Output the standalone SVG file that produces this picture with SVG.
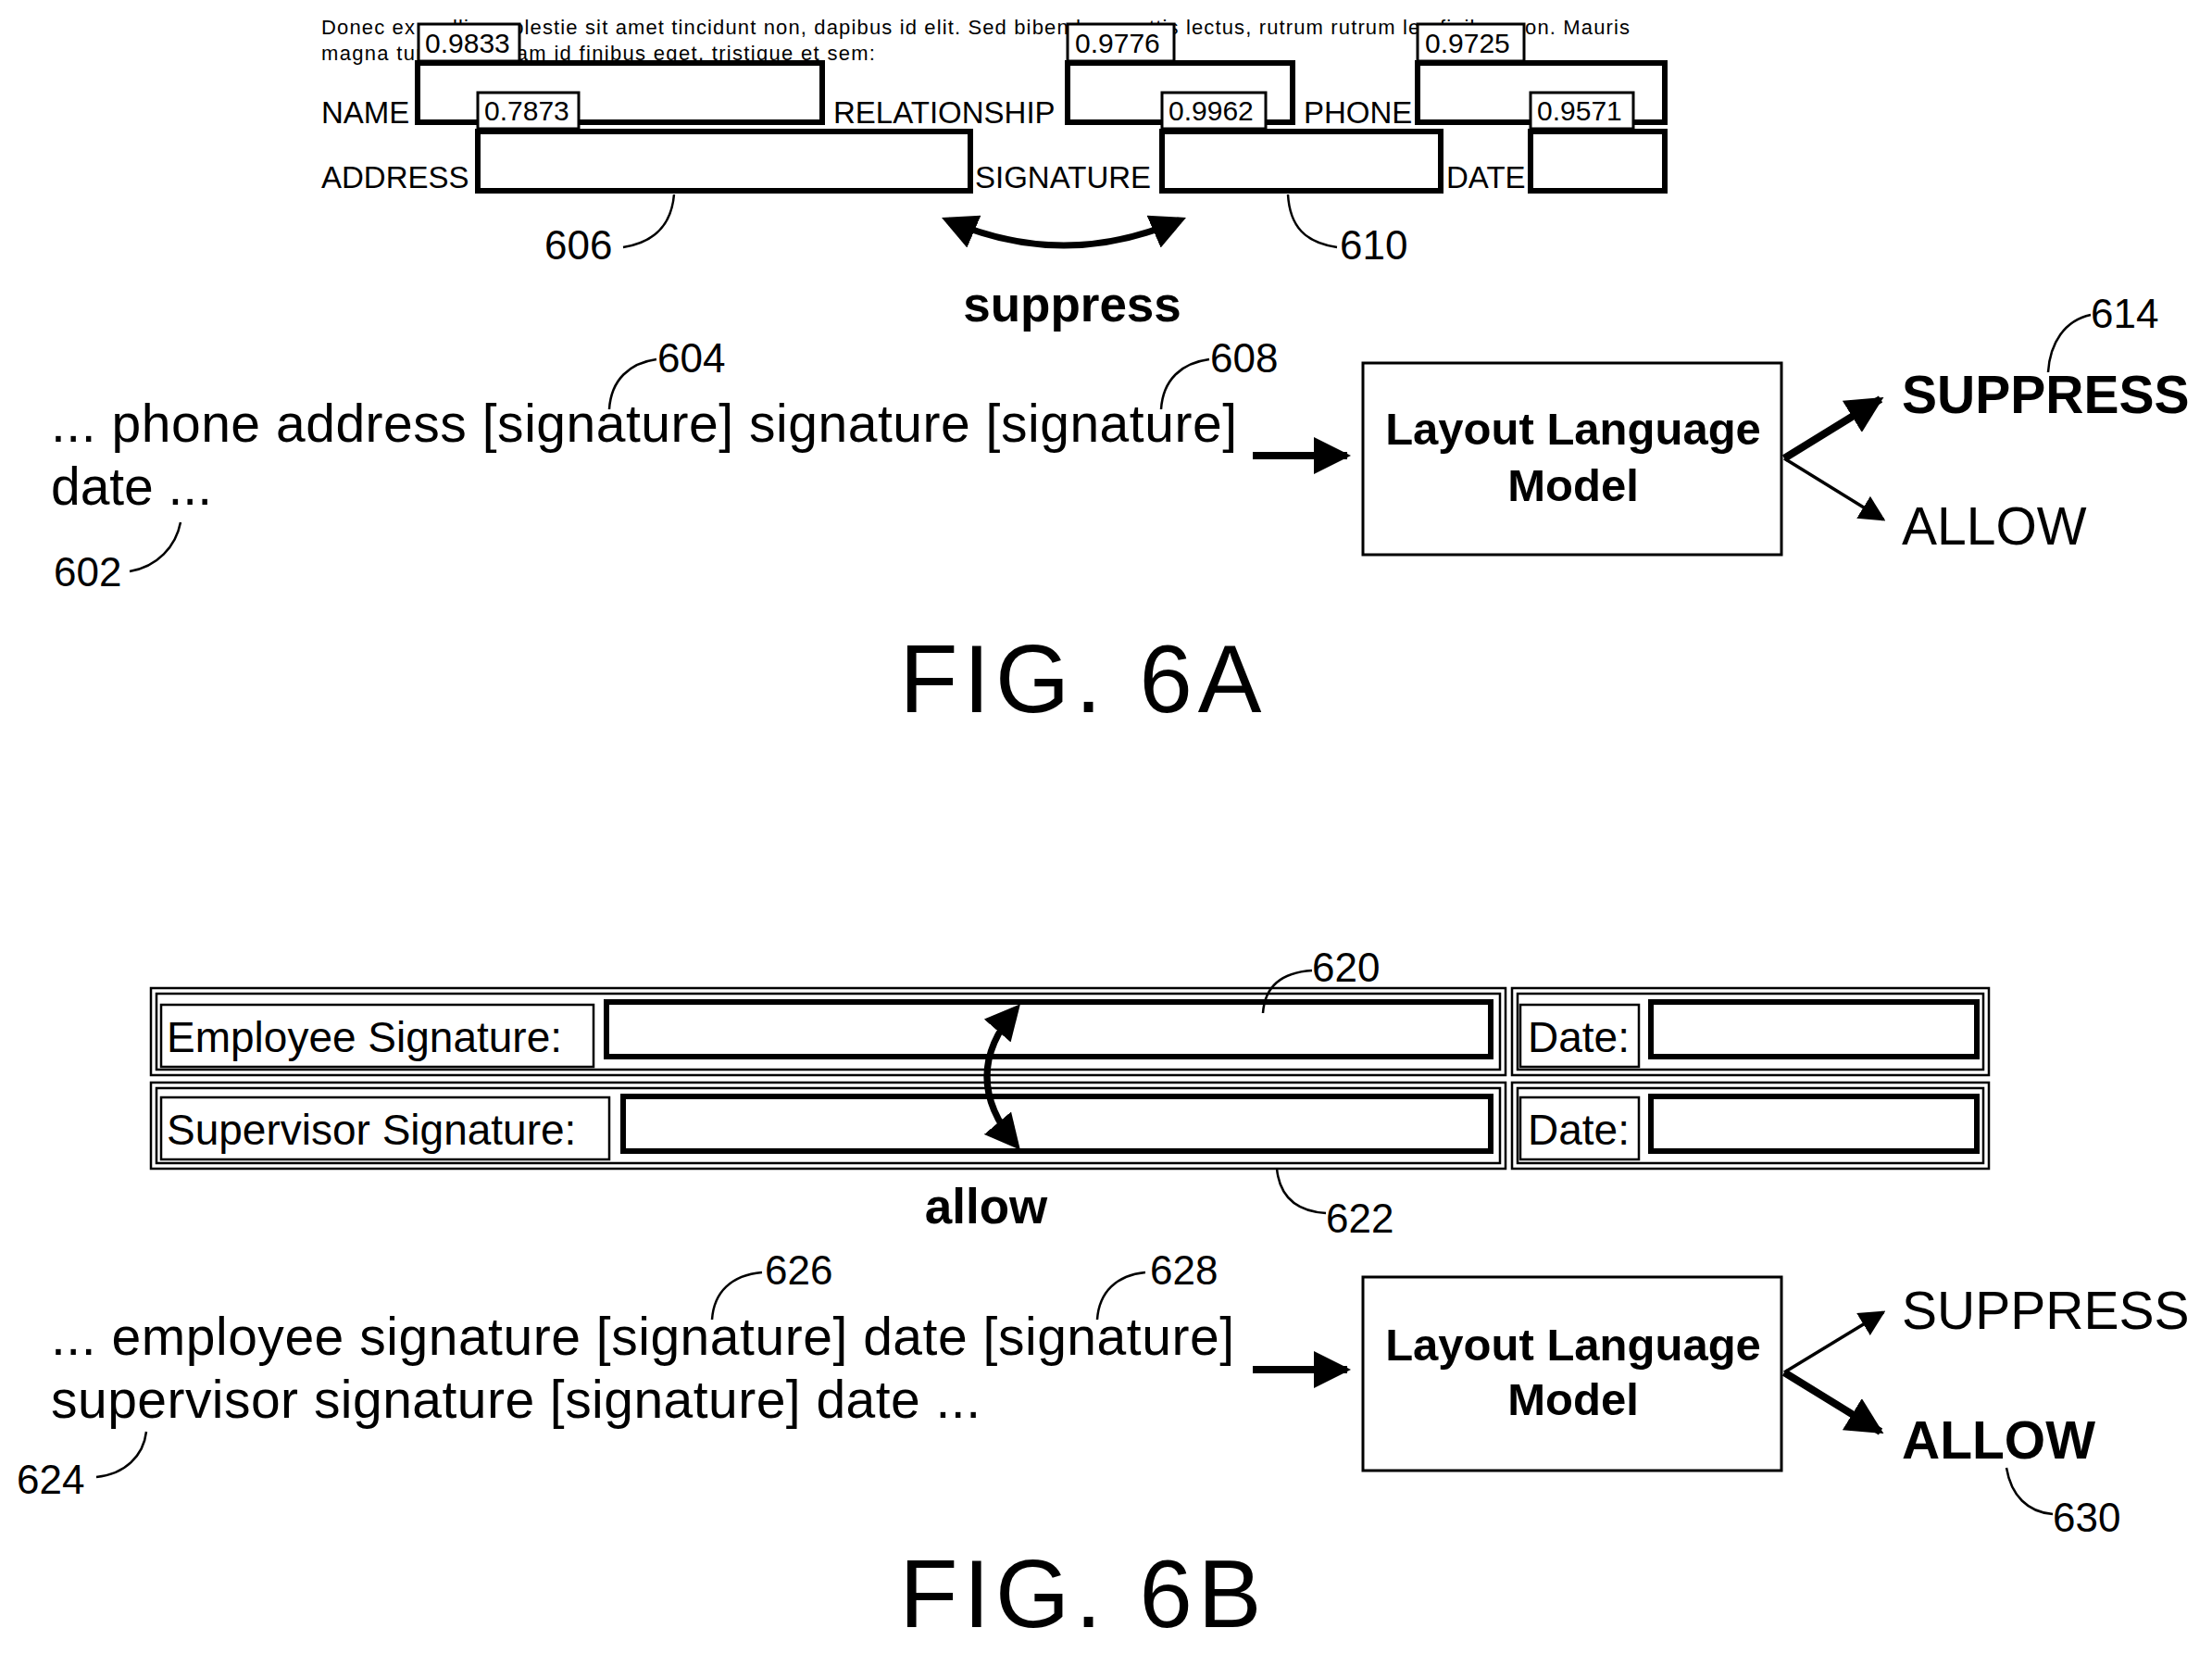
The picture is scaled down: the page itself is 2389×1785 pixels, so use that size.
<svg xmlns="http://www.w3.org/2000/svg" width="2389" height="1785" viewBox="0 0 2389 1785">
<defs>
<style>
text{font-family:"Liberation Sans",Arial,sans-serif;fill:#000}
.sm{font-size:22px}
.lb{font-size:33px}
.sc{font-size:30px}
.num{font-size:44px}
.big{font-size:57px}
.bold{font-weight:bold}
.fig{font-size:103px;letter-spacing:6px}
.fld{fill:#fff;stroke:#000;stroke-width:6}
.sbox{fill:#fff;stroke:#000;stroke-width:3}
.thin{fill:none;stroke:#000;stroke-width:2.5}
.lead{fill:none;stroke:#000;stroke-width:2.5}
.mb{fill:#fff;stroke:#000;stroke-width:3}
.llm{font-size:49px;font-weight:bold}
</style>
<marker id="ah" viewBox="0 0 10 10" refX="9" refY="5" markerWidth="5" markerHeight="5" orient="auto-start-reverse" markerUnits="strokeWidth"><path d="M0,0L10,5L0,10z"/></marker>
<marker id="ah2" viewBox="0 0 10 10" refX="9" refY="5" markerWidth="8" markerHeight="8" orient="auto-start-reverse" markerUnits="strokeWidth"><path d="M0,0L10,5L0,10z"/></marker>
<marker id="ah3" viewBox="0 0 10 10" refX="8" refY="5" markerWidth="38" markerHeight="38" orient="auto-start-reverse" markerUnits="userSpaceOnUse"><path d="M0,0L10,5L0,10z"/></marker>
</defs>
<rect width="2389" height="1785" fill="#fff"/>

<g id="form6a">
<text class="sm" x="347" y="37" textLength="1413">Donec ex mollis, molestie sit amet tincidunt non, dapibus id elit. Sed bibendum mattis lectus, rutrum rutrum leo finibus non. Mauris</text>
<text class="sm" x="347" y="65" textLength="598">magna turpis, aliquam id finibus eget, tristique et sem:</text>
<text class="lb" x="347" y="133">NAME</text>
<text class="lb" x="900" y="133">RELATIONSHIP</text>
<text class="lb" x="1408" y="133">PHONE</text>
<text class="lb" x="347" y="203">ADDRESS</text>
<text class="lb" x="1053" y="203">SIGNATURE</text>
<text class="lb" x="1562" y="203">DATE</text>
<rect class="fld" x="451" y="68" width="437" height="64"/>
<rect class="fld" x="1153" y="68" width="243" height="64"/>
<rect class="fld" x="1531" y="68" width="267" height="64"/>
<rect class="fld" x="516" y="142" width="532" height="64"/>
<rect class="fld" x="1255" y="142" width="301" height="64"/>
<rect class="fld" x="1653" y="142" width="145" height="64"/>
<rect class="sbox" x="452" y="26" width="109" height="40"/><text class="sc" x="459" y="57">0.9833</text>
<rect class="sbox" x="516" y="100" width="109" height="39"/><text class="sc" x="523" y="130">0.7873</text>
<rect class="sbox" x="1153" y="26" width="115" height="40"/><text class="sc" x="1161" y="57">0.9776</text>
<rect class="sbox" x="1255" y="100" width="112" height="39"/><text class="sc" x="1262" y="130">0.9962</text>
<rect class="sbox" x="1531" y="26" width="115" height="40"/><text class="sc" x="1539" y="57">0.9725</text>
<rect class="sbox" x="1653" y="100" width="111" height="39"/><text class="sc" x="1660" y="130">0.9571</text>
</g>

<g id="labels6a">
<path class="lead" d="M673,267 C705,262 725,245 728,210"/><text class="num" x="588" y="280">606</text>
<path class="lead" d="M1444,267 C1410,262 1393,245 1391,210"/><text class="num" x="1447" y="280">610</text>
<text class="bold" x="1158" y="347" text-anchor="middle" font-size="53">suppress</text>
</g>

<g id="seq6a">
<text class="big" x="55" y="477" textLength="1281">... phone address [signature] signature [signature]</text>
<text class="big" x="55" y="545" textLength="174">date ...</text>
<path class="lead" d="M658,442 C660,410 680,392 709,388"/><text class="num" x="710" y="402">604</text>
<path class="lead" d="M1254,442 C1256,410 1276,392 1306,388"/><text class="num" x="1307" y="402">608</text>
<path class="lead" d="M140,617 C170,612 190,590 195,564"/><text class="num" x="58" y="633">602</text>
</g>

<g id="llm6a">
<rect class="mb" x="1472" y="392" width="452" height="207"/>
<text class="llm" x="1699" y="480" text-anchor="middle">Layout Language</text>
<text class="llm" x="1699" y="541" text-anchor="middle">Model</text>
</g>
<g id="out6a">
<text class="big bold" x="2054" y="446">SUPPRESS</text>
<text class="big" x="2054" y="588">ALLOW</text>
<path class="lead" d="M2212,402 C2214,370 2230,346 2258,340"/><text class="num" x="2258" y="354">614</text>
</g>
<text class="fig" x="1170" y="769" text-anchor="middle">FIG. 6A</text>

<g id="form6b">
<rect class="thin" x="163" y="1067" width="1463" height="94"/><rect class="thin" x="169" y="1073" width="1451" height="82"/>
<rect class="thin" x="163" y="1169" width="1463" height="93"/><rect class="thin" x="169" y="1175" width="1451" height="81"/>
<rect class="thin" x="1633" y="1067" width="515" height="94"/><rect class="thin" x="1639" y="1073" width="503" height="82"/>
<rect class="thin" x="1633" y="1169" width="515" height="93"/><rect class="thin" x="1639" y="1175" width="503" height="81"/>
<rect class="thin" x="174" y="1085" width="467" height="67"/><text font-size="46" x="180" y="1136">Employee Signature:</text>
<rect class="fld" x="655" y="1082" width="955" height="59"/>
<rect class="thin" x="174" y="1185" width="484" height="67"/><text font-size="46" x="180" y="1236">Supervisor Signature:</text>
<rect class="fld" x="673" y="1184" width="937" height="59"/>
<rect class="thin" x="1642" y="1085" width="128" height="67"/><text font-size="46" x="1650" y="1136">Date:</text>
<rect class="fld" x="1783" y="1082" width="352" height="59"/>
<rect class="thin" x="1642" y="1185" width="128" height="67"/><text font-size="46" x="1650" y="1236">Date:</text>
<rect class="fld" x="1783" y="1184" width="352" height="59"/>
</g>

<g id="labels6b">
<path class="lead" d="M1364,1094 C1366,1065 1385,1050 1417,1048"/><text class="num" x="1417" y="1060">620</text>
<path class="lead" d="M1379,1262 C1382,1292 1400,1308 1432,1310"/><text class="num" x="1432" y="1331">622</text>
<text class="bold" font-size="53" x="1065" y="1321" text-anchor="middle">allow</text>
</g>

<g id="seq6b">
<text class="big" x="55" y="1463" textLength="1278">... employee signature [signature] date [signature]</text>
<text class="big" x="55" y="1531" textLength="1004">supervisor signature [signature] date ...</text>
<path class="lead" d="M769,1425 C771,1395 790,1377 823,1374"/><text class="num" x="826" y="1387">626</text>
<path class="lead" d="M1185,1425 C1187,1395 1206,1377 1237,1374"/><text class="num" x="1242" y="1387">628</text>
<path class="lead" d="M104,1595 C135,1592 155,1572 158,1546"/><text class="num" x="18" y="1613">624</text>
</g>

<g id="llm6b">
<rect class="mb" x="1472" y="1379" width="452" height="209"/>
<text class="llm" x="1699" y="1469" text-anchor="middle">Layout Language</text>
<text class="llm" x="1699" y="1528" text-anchor="middle">Model</text>
</g>
<g id="out6b">
<text class="big" x="2054" y="1435">SUPPRESS</text>
<text class="big bold" x="2054" y="1575">ALLOW</text>
<path class="lead" d="M2167,1585 C2172,1615 2190,1633 2217,1635"/><text class="num" x="2217" y="1654">630</text>
</g>
<text class="fig" x="1170" y="1757" text-anchor="middle">FIG. 6B</text>

<g id="connectors">
<path d="M1024,238 Q1149,292 1274,238" fill="none" stroke="#000" stroke-width="7" marker-start="url(#ah3)" marker-end="url(#ah3)"/>
<path d="M1353,492 L1455,492" stroke="#000" stroke-width="8" marker-end="url(#ah)"/>
<path d="M1927,495 L2031,431" stroke="#000" stroke-width="8" marker-end="url(#ah)"/>
<path d="M1927,495 L2034,561" stroke="#000" stroke-width="3.5" marker-end="url(#ah2)"/>
<path d="M1097,1090 Q1035,1162 1097,1236" fill="none" stroke="#000" stroke-width="7" marker-start="url(#ah3)" marker-end="url(#ah3)"/>
<path d="M1353,1479 L1455,1479" stroke="#000" stroke-width="8" marker-end="url(#ah)"/>
<path d="M1927,1482 L2034,1417" stroke="#000" stroke-width="3.5" marker-end="url(#ah2)"/>
<path d="M1927,1482 L2031,1546" stroke="#000" stroke-width="8" marker-end="url(#ah)"/>
</g>
</svg>
